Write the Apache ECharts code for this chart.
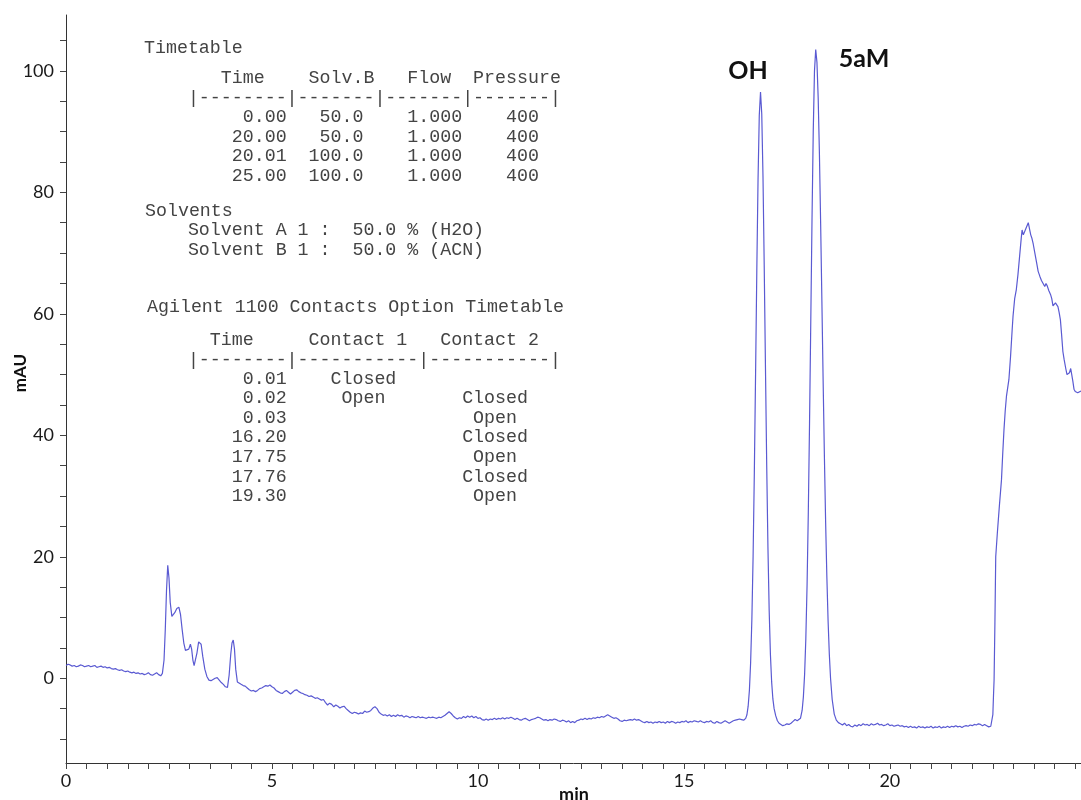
<!DOCTYPE html>
<html>
<head>
<meta charset="utf-8">
<script src="https://cdn.jsdelivr.net/npm/echarts@6.0.0/dist/echarts.min.js"></script>
<style>
html,body{margin:0;padding:0;background:#fff;}
#chart{width:1081px;height:800px;}
</style>
</head>
<body>
<div id="chart"></div>
<script>
// ---- data: [time (min), absorbance (mAU)] ----
const segStart = [[0.00,2.1],[0.05,2.3],[0.10,2.2],[0.15,2.0],[0.20,2.1],[0.25,1.9],[0.30,2.0],[0.35,2.2],[0.40,2.1],[0.45,1.9],[0.50,2.0],[0.55,2.1],[0.60,1.9],[0.65,2.0],[0.70,2.1],[0.75,1.8],[0.80,1.9],[0.85,2.0],[0.90,1.8],[0.95,1.9],[1.00,1.7],[1.05,1.8],[1.10,1.6],[1.15,1.5],[1.20,1.6],[1.25,1.4],[1.30,1.3],[1.35,1.4],[1.40,1.2],[1.45,1.1],[1.50,1.2],[1.55,1.0],[1.60,0.9],[1.65,1.0],[1.70,0.8],[1.75,0.9],[1.80,0.7],[1.85,0.8],[1.90,0.6],[1.95,0.7],[2.00,0.9],[2.05,0.6],[2.10,0.5],[2.15,0.7],[2.20,0.9],[2.25,0.6],[2.30,0.4],[2.34,0.8]];
const segSolventFront = [[2.38,3.0],[2.41,8.0],[2.44,14.5],[2.47,18.6],[2.50,16.5],[2.53,12.5],[2.57,10.2],[2.60,10.0],[2.64,10.8],[2.69,11.5],[2.74,11.7],[2.78,10.5],[2.82,8.0],[2.86,5.8],[2.90,4.6],[2.94,4.5],[2.98,4.8],[3.02,5.6],[3.05,4.8],[3.08,3.0],[3.11,2.1],[3.14,2.2],[3.18,4.2],[3.22,6.0],[3.25,6.3],[3.28,5.6],[3.32,3.6],[3.37,1.5],[3.42,0.3],[3.47,-0.3],[3.52,-0.4],[3.57,-0.2],[3.62,0.0],[3.67,0.1],[3.72,-0.3],[3.77,-0.7],[3.82,-1.0],[3.87,-1.4],[3.92,-1.5],[3.96,0.5],[4.00,4.0],[4.03,5.8],[4.06,6.3],[4.09,4.8],[4.12,1.5],[4.16,-0.6],[4.20,-0.8],[4.25,-1.0],[4.30,-1.2],[4.35,-1.3],[4.40,-1.6],[4.45,-1.9],[4.50,-2.1],[4.55,-2.0],[4.60,-2.2],[4.65,-2.0],[4.70,-1.7],[4.75,-1.6],[4.80,-1.4],[4.85,-1.2],[4.90,-1.3],[4.95,-1.1],[5.00,-1.4],[5.05,-1.6],[5.10,-2.0],[5.15,-2.2],[5.20,-2.4],[5.25,-2.5],[5.30,-2.2],[5.35,-2.0]];
const segDrift = [[5.40,-2.3],[5.45,-2.6],[5.50,-2.3],[5.55,-2.0],[5.60,-1.9],[5.65,-2.2],[5.70,-2.4],[5.75,-2.5],[5.80,-2.7],[5.85,-2.8],[5.90,-3.0],[5.95,-2.9],[6.00,-3.1],[6.05,-3.3],[6.10,-3.2],[6.15,-3.4],[6.20,-3.6],[6.25,-3.5],[6.30,-4.0],[6.35,-4.4],[6.40,-4.1],[6.45,-4.3],[6.50,-4.7],[6.55,-4.4],[6.60,-4.6],[6.65,-4.9],[6.70,-4.7],[6.75,-4.6],[6.80,-5.0],[6.85,-5.3],[6.90,-5.6],[6.95,-5.8],[7.00,-5.6],[7.05,-5.7],[7.10,-5.9],[7.15,-5.7],[7.20,-5.8],[7.25,-5.4],[7.30,-5.6],[7.35,-5.5],[7.40,-5.3],[7.45,-4.9],[7.50,-4.7],[7.55,-5.0],[7.60,-5.6],[7.65,-5.9],[7.70,-6.1],[7.75,-6.0],[7.80,-6.2],[7.85,-6.0],[7.90,-6.3],[7.95,-6.1],[8.00,-6.3],[8.05,-6.0],[8.10,-6.2],[8.15,-6.1],[8.20,-6.4],[8.25,-6.2],[8.30,-6.3],[8.35,-6.5],[8.40,-6.3],[8.45,-6.4],[8.50,-6.5],[8.55,-6.3],[8.60,-6.5],[8.65,-6.4],[8.70,-6.5],[8.75,-6.6],[8.80,-6.4],[8.85,-6.5],[8.90,-6.4],[8.95,-6.5],[9.00,-6.6]];
const segBaselineMid = [[9.05,-6.4],[9.10,-6.5],[9.15,-6.3],[9.20,-6.1],[9.25,-5.8],[9.30,-5.5],[9.35,-5.8],[9.40,-6.2],[9.45,-6.5],[9.50,-6.7],[9.55,-6.5],[9.60,-6.6],[9.65,-6.3],[9.70,-6.5],[9.75,-6.2],[9.80,-6.4],[9.85,-6.2],[9.90,-6.5],[9.95,-6.3],[10.00,-6.6],[10.05,-6.5],[10.10,-6.8],[10.15,-6.9],[10.20,-6.7],[10.25,-6.9],[10.30,-6.7],[10.35,-6.8],[10.40,-6.6],[10.45,-6.8],[10.50,-6.6],[10.55,-6.7],[10.60,-6.5],[10.65,-6.7],[10.70,-6.5],[10.75,-6.6],[10.80,-6.4],[10.85,-6.6],[10.90,-6.8],[10.95,-6.6],[11.00,-6.8],[11.05,-6.9],[11.10,-6.7],[11.15,-6.6],[11.20,-6.8],[11.25,-7.0],[11.30,-6.8],[11.35,-6.7],[11.40,-6.6],[11.45,-6.4],[11.50,-6.5],[11.55,-6.7],[11.60,-6.9],[11.65,-6.8],[11.70,-7.0],[11.75,-6.8],[11.80,-6.9],[11.85,-6.7],[11.90,-6.8],[11.95,-7.0],[12.00,-7.1],[12.05,-6.9],[12.10,-7.0],[12.15,-7.2],[12.20,-7.0],[12.25,-7.3],[12.30,-7.1],[12.35,-7.3],[12.40,-7.0],[12.45,-6.9],[12.50,-6.7],[12.55,-6.8],[12.60,-6.6],[12.65,-6.8],[12.70,-6.6],[12.75,-6.7],[12.80,-6.5],[12.85,-6.6],[12.90,-6.4],[12.95,-6.5],[13.00,-6.3],[13.05,-6.4],[13.10,-6.2],[13.15,-6.0],[13.20,-6.2],[13.25,-6.4],[13.30,-6.6],[13.35,-6.5],[13.40,-6.7],[13.45,-7.0],[13.50,-7.1],[13.55,-6.9],[13.60,-7.0],[13.65,-6.9],[13.70,-6.8],[13.75,-6.9],[13.80,-6.7],[13.85,-6.9],[13.90,-6.8],[13.95,-7.0],[14.00,-7.2],[14.05,-7.3],[14.10,-7.1],[14.15,-7.3],[14.20,-7.2],[14.25,-7.4],[14.30,-7.2],[14.35,-7.3],[14.40,-7.1],[14.45,-7.3],[14.50,-7.2],[14.55,-7.4],[14.60,-7.1],[14.65,-7.3],[14.70,-7.1],[14.75,-7.2],[14.80,-7.4],[14.85,-7.2],[14.90,-7.3],[14.95,-7.1],[15.00,-7.2],[15.05,-7.0],[15.10,-7.3],[15.15,-7.1],[15.20,-7.2],[15.25,-7.0],[15.30,-7.1],[15.35,-7.2],[15.40,-7.0],[15.45,-7.2],[15.50,-7.3],[15.55,-7.1],[15.60,-7.2],[15.65,-7.0],[15.70,-7.3],[15.75,-7.4],[15.80,-7.1],[15.85,-7.3],[15.90,-7.4],[15.95,-7.2],[16.00,-7.0],[16.05,-7.2],[16.10,-7.4],[16.15,-7.2],[16.20,-7.0],[16.25,-6.9],[16.30,-6.8],[16.35,-6.7],[16.40,-6.8],[16.45,-6.9]];
const segPeakOH = [[16.50,-6.6],[16.53,-6.0],[16.56,-4.6],[16.59,-2.0],[16.62,2.6],[16.65,9.7],[16.68,20.1],[16.71,33.9],[16.74,50.1],[16.77,67.1],[16.80,82.2],[16.83,92.7],[16.86,96.5],[16.89,92.9],[16.92,82.6],[16.95,67.8],[16.98,51.2],[17.01,35.2],[17.04,21.6],[17.07,11.2],[17.10,4.0],[17.13,-0.6],[17.16,-3.4],[17.19,-5.0],[17.23,-6.2],[17.27,-7.0],[17.31,-7.4],[17.35,-7.6],[17.40,-7.8],[17.45,-7.7],[17.50,-7.5],[17.55,-7.6],[17.60,-7.4],[17.65,-7.1],[17.70,-6.8],[17.75,-7.0],[17.79,-6.9]];
const segPeak5aM = [[17.83,-6.6],[17.87,-5.3],[17.90,-3.1],[17.93,0.6],[17.96,6.5],[17.99,15.3],[18.02,27.2],[18.05,42.0],[18.08,58.7],[18.11,75.5],[18.14,90.0],[18.17,100.0],[18.20,103.5],[18.23,101.4],[18.26,95.5],[18.29,86.3],[18.32,74.7],[18.35,62.0],[18.38,49.0],[18.41,36.8],[18.44,25.9],[18.47,16.8],[18.50,9.5],[18.53,4.0],[18.56,0.0],[18.60,-3.5],[18.65,-5.9],[18.70,-6.9],[18.75,-7.3]];
const segBaselineLate = [[18.80,-7.5],[18.85,-7.7],[18.90,-7.4],[18.95,-7.8],[19.00,-7.6],[19.05,-7.9],[19.10,-8.0],[19.15,-7.7],[19.20,-7.9],[19.25,-7.6],[19.30,-7.8],[19.35,-7.5],[19.40,-7.7],[19.45,-7.6],[19.50,-7.8],[19.55,-7.5],[19.60,-7.7],[19.65,-7.6],[19.70,-7.4],[19.75,-7.7],[19.80,-7.6],[19.85,-7.8],[19.90,-7.7],[19.95,-7.5],[20.00,-7.8],[20.05,-7.7],[20.10,-7.9],[20.15,-7.8],[20.20,-7.7],[20.25,-7.9],[20.30,-7.8],[20.35,-8.0],[20.40,-7.9],[20.45,-8.1],[20.50,-7.9],[20.55,-8.1],[20.60,-8.0],[20.65,-8.2],[20.70,-7.9],[20.75,-8.1],[20.80,-8.0],[20.85,-8.2],[20.90,-8.0],[20.95,-8.1],[21.00,-7.9],[21.05,-8.2],[21.10,-8.0],[21.15,-8.1],[21.20,-7.9],[21.25,-8.2],[21.30,-8.0],[21.35,-8.1],[21.40,-7.9],[21.45,-8.1],[21.50,-7.9],[21.55,-8.0],[21.60,-7.8],[21.65,-8.0],[21.70,-7.9],[21.75,-8.1],[21.80,-7.9],[21.85,-7.8],[21.90,-7.9],[21.95,-7.7],[22.00,-7.8],[22.05,-7.6],[22.10,-7.7],[22.15,-7.5],[22.20,-7.6],[22.25,-7.8],[22.30,-7.6],[22.35,-7.8],[22.40,-8.0],[22.45,-7.9],[22.49,-8.0]];
const segGradientStep = [[22.50,-6.0],[22.515,-3.0],[22.53,-0.3],[22.55,9.0],[22.57,20.0],[22.61,24.0],[22.66,28.5],[22.71,32.7],[22.74,37.0],[22.77,40.9],[22.80,44.0],[22.83,46.4],[22.89,49.2],[22.93,53.0],[22.97,57.5],[22.99,59.6],[23.03,62.5],[23.07,64.0],[23.11,66.5],[23.15,69.5],[23.19,72.5],[23.21,73.8],[23.24,73.0],[23.27,72.8],[23.30,74.0],[23.33,74.3],[23.36,75.0],[23.39,74.0],[23.42,73.0],[23.45,72.4],[23.48,71.5],[23.52,70.0],[23.56,68.5],[23.60,67.0],[23.64,66.2],[23.68,65.5],[23.72,65.2],[23.76,64.5],[23.79,65.0],[23.82,64.6],[23.86,63.8],[23.90,63.2],[23.93,62.5],[23.96,61.3],[23.99,61.2],[24.02,61.8],[24.05,62.1],[24.08,61.2],[24.11,60.2],[24.14,59.0],[24.17,56.5],[24.20,53.8],[24.23,52.5],[24.27,51.0],[24.30,50.0],[24.33,49.7],[24.36,50.3],[24.39,51.0],[24.41,50.8],[24.44,49.0],[24.47,47.6],[24.50,47.2],[24.53,47.5],[24.56,47.0],[24.60,46.8],[24.64,47.3]];

// ---- axis ticks and labels ----
const xLabelValues = [0, 5, 10, 15, 20];
const xTickValues = [0,0.5,1,1.5,2,2.5,3,3.5,4,4.5,5,5.5,6,6.5,7,7.5,8,8.5,9,9.5,10,10.5,11,11.5,12,12.5,13,13.5,14,14.5,15,15.5,16,16.5,17,17.5,18,18.5,19,19.5,20,20.5,21,21.5,22,22.5,23,23.5,24,24.5];
const yLabelValues = [0, 20, 40, 60, 80, 100];
const yTickValues = [-10,-5,0,5,10,15,20,25,30,35,40,45,50,55,60,65,70,75,80,85,90,95,100,105];

// ---- annotation texts ----
const peakNames = ['OH', '5aM'];
const xAxisTitle = 'min';
const yAxisTitle = 'mAU';
const methodText = [
  'Timetable',
  '       Time    Solv.B   Flow  Pressure',
  '    |--------|-------|-------|-------|',
  '         0.00   50.0    1.000    400',
  '        20.00   50.0    1.000    400',
  '        20.01  100.0    1.000    400',
  '        25.00  100.0    1.000    400',
  'Solvents',
  '    Solvent A 1 :  50.0 % (H2O)',
  '    Solvent B 1 :  50.0 % (ACN)',
  'Agilent 1100 Contacts Option Timetable',
  '      Time     Contact 1   Contact 2',
  '    |--------|-----------|-----------|',
  '         0.01    Closed',
  '         0.02     Open       Closed',
  '         0.03                 Open',
  '        16.20                Closed',
  '        17.75                 Open',
  '        17.76                Closed',
  '        19.30                 Open'
];

// ---- layout (pixel positions of the pasted method text) ----
const methodLineY = [48.3,78.3,98.3,117.3,136.7,156,175.7,211,230,250,306.7,340,360,379,398.3,417.7,436.7,456.7,476.7,496];
const methodLineX = [144,144,144,144,144,144,144,145,144,144,147,144,144,144,144,144,144,144,144,144];

const trace = [].concat(segStart, segSolventFront, segDrift, segBaselineMid, segPeakOH, segPeak5aM, segBaselineLate, segGradientStep);

const boldFont = (px) => 'bold ' + px + 'px Lato, "Open Sans", sans-serif';
const centred = { align: 'center', textAlign: 'center', verticalAlign: 'middle', textVerticalAlign: 'middle' };

const graphics = methodText.map((t, i) => ({
  type: 'text', x: methodLineX[i], y: methodLineY[i], silent: true,
  style: { text: t, font: '18.3px "Liberation Mono", "DejaVu Sans Mono", monospace', fill: '#444', verticalAlign: 'middle', textVerticalAlign: 'middle', align: 'left' }
}));
graphics.push({ type: 'text', x: 748, y: 71, silent: true, style: Object.assign({ text: peakNames[0], font: boldFont(25), fill: '#111' }, centred) });
graphics.push({ type: 'text', x: 864, y: 59, silent: true, style: Object.assign({ text: peakNames[1], font: boldFont(25), fill: '#111' }, centred) });
graphics.push({ type: 'text', x: 21, y: 373, rotation: Math.PI / 2, silent: true, style: Object.assign({ text: yAxisTitle, font: boldFont(17), fill: '#111' }, centred) });
graphics.push({ type: 'text', x: 574, y: 795, silent: true, style: Object.assign({ text: xAxisTitle, font: boldFont(18), fill: '#111' }, centred) });

const chart = echarts.init(document.getElementById('chart'), null, { renderer: 'canvas' });
chart.setOption({
  animation: false,
  backgroundColor: '#ffffff',
  grid: { left: 66, right: 0, top: 15, bottom: 37, containLabel: false, outerBoundsMode: 'none' },
  xAxis: {
    type: 'value', min: 0, max: 24.64,
    axisLine: { show: true, onZero: false, lineStyle: { color: '#333', width: 1 } },
    axisTick: { show: true, inside: false, length: 6, customValues: xTickValues, lineStyle: { color: '#444', width: 1 } },
    axisLabel: { customValues: xLabelValues, fontFamily: 'Lato', fontSize: 18, color: '#1a1a1a', margin: 9 },
    splitLine: { show: false }
  },
  yAxis: {
    type: 'value', min: -13.95, max: 109.2,
    axisLine: { show: true, lineStyle: { color: '#333', width: 1 } },
    axisTick: { show: true, inside: false, length: 6, customValues: yTickValues, lineStyle: { color: '#444', width: 1 } },
    axisLabel: { customValues: yLabelValues, fontFamily: 'Lato', fontSize: 18, color: '#1a1a1a', margin: 12 },
    splitLine: { show: false }
  },
  graphic: graphics,
  series: [{
    type: 'line', data: trace, showSymbol: false, symbol: 'none', smooth: false,
    lineStyle: { color: '#5a5ad2', width: 1.2 }
  }]
});
</script>
</body>
</html>
